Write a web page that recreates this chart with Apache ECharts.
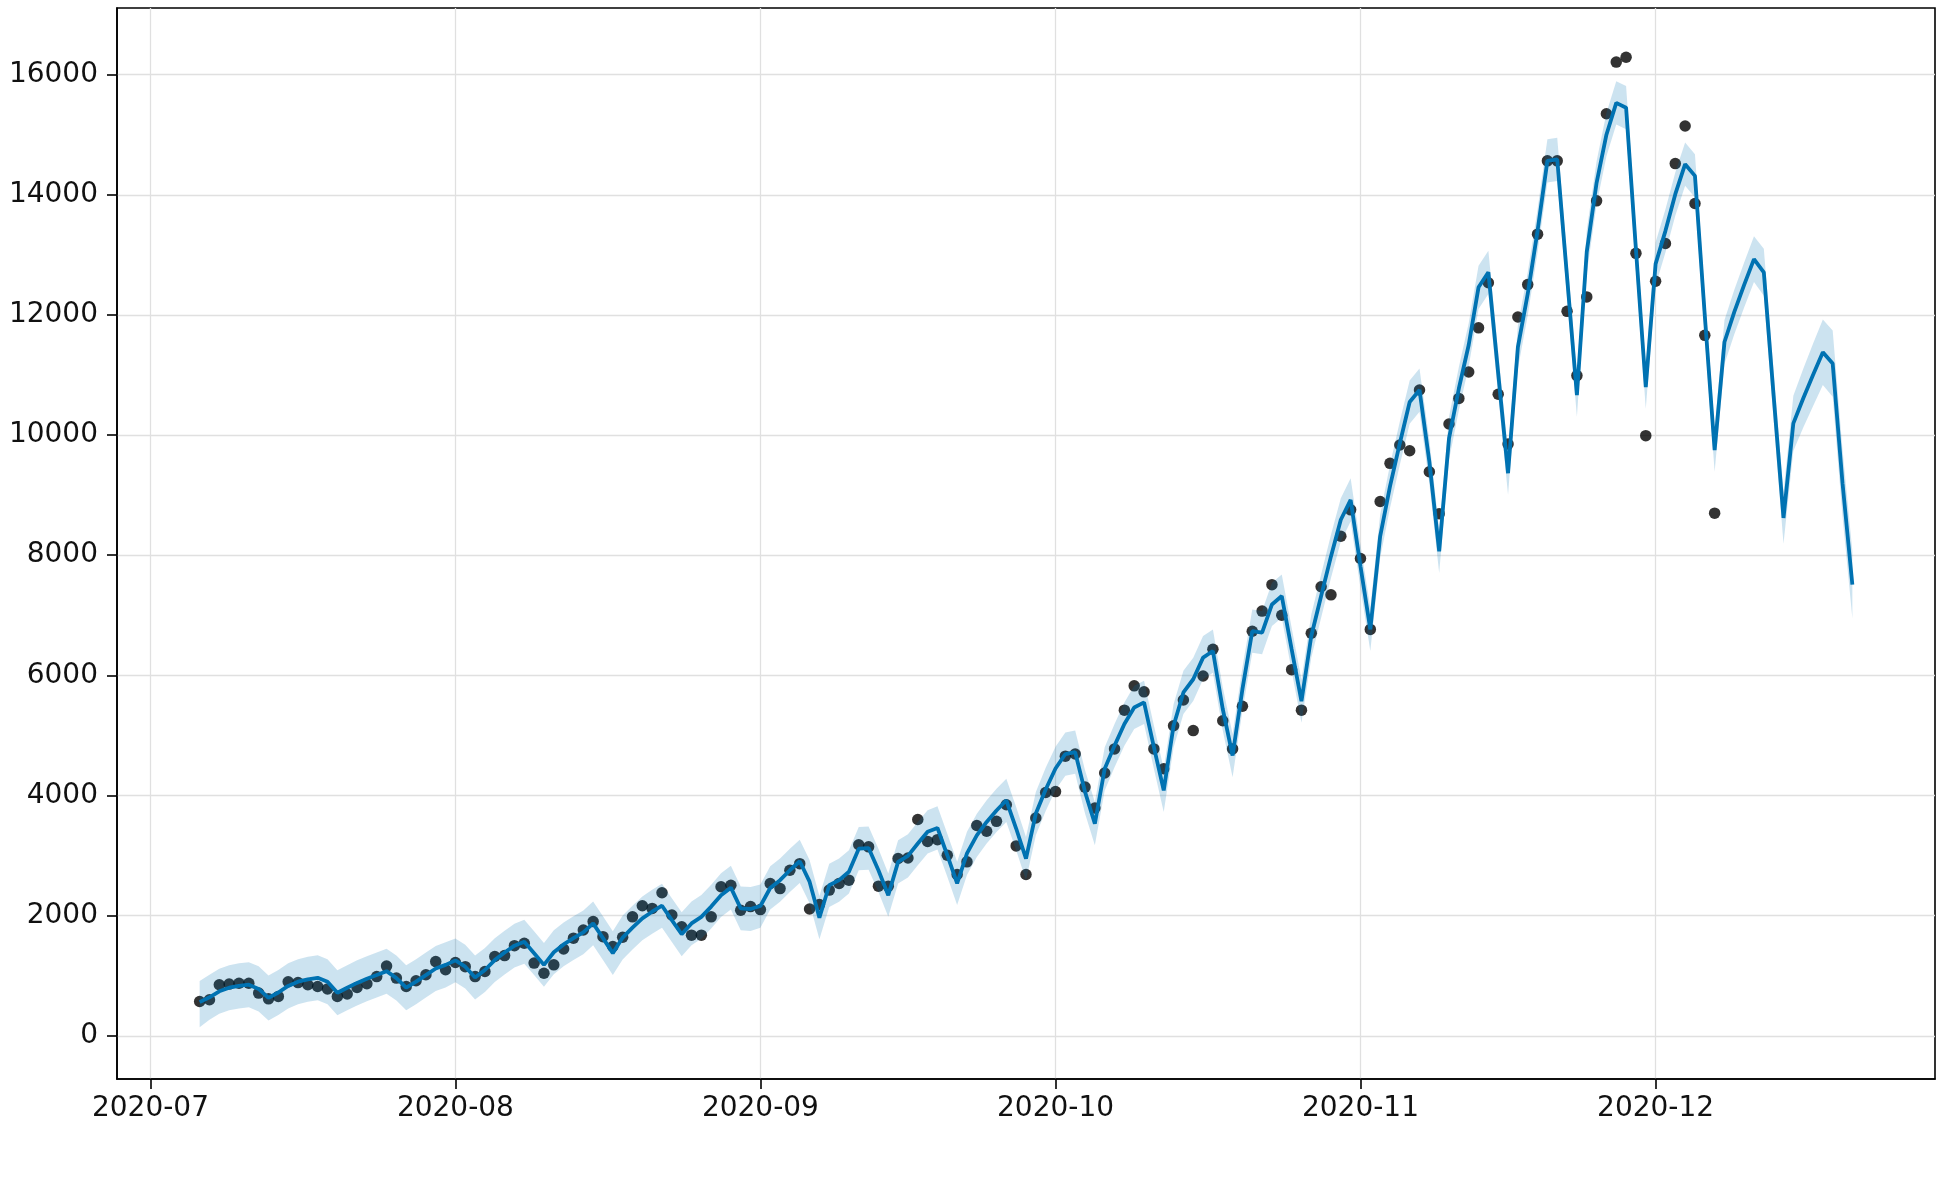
<!DOCTYPE html>
<html>
<head>
<meta charset="utf-8">
<script src="https://cdn.jsdelivr.net/npm/echarts@6/dist/echarts.min.js"></script>
<style>
html,body{margin:0;padding:0;background:#fff;}
#chart{width:1950px;height:1178px;}
</style>
</head>
<body>
<div id="chart"></div>
<script>
// Dates of the forecast frame (history runs to 2020-12-07)
const dates = [
'2020-07-06','2020-07-07','2020-07-08','2020-07-09','2020-07-10','2020-07-11','2020-07-12','2020-07-13','2020-07-14','2020-07-15','2020-07-16','2020-07-17','2020-07-18','2020-07-19','2020-07-20','2020-07-21','2020-07-22','2020-07-23','2020-07-24','2020-07-25','2020-07-26','2020-07-27','2020-07-28','2020-07-29','2020-07-30','2020-07-31',
'2020-08-01','2020-08-02','2020-08-03','2020-08-04','2020-08-05','2020-08-06','2020-08-07','2020-08-08','2020-08-09','2020-08-10','2020-08-11','2020-08-12','2020-08-13','2020-08-14','2020-08-15','2020-08-16','2020-08-17','2020-08-18','2020-08-19','2020-08-20','2020-08-21','2020-08-22','2020-08-23','2020-08-24','2020-08-25','2020-08-26','2020-08-27','2020-08-28','2020-08-29','2020-08-30','2020-08-31',
'2020-09-01','2020-09-02','2020-09-03','2020-09-04','2020-09-05','2020-09-06','2020-09-07','2020-09-08','2020-09-09','2020-09-10','2020-09-11','2020-09-12','2020-09-13','2020-09-14','2020-09-15','2020-09-16','2020-09-17','2020-09-18','2020-09-19','2020-09-20','2020-09-21','2020-09-22','2020-09-23','2020-09-24','2020-09-25','2020-09-26','2020-09-27','2020-09-28','2020-09-29','2020-09-30',
'2020-10-01','2020-10-02','2020-10-03','2020-10-04','2020-10-05','2020-10-06','2020-10-07','2020-10-08','2020-10-09','2020-10-10','2020-10-11','2020-10-12','2020-10-13','2020-10-14','2020-10-15','2020-10-16','2020-10-17','2020-10-18','2020-10-19','2020-10-20','2020-10-21','2020-10-22','2020-10-23','2020-10-24','2020-10-25','2020-10-26','2020-10-27','2020-10-28','2020-10-29','2020-10-30','2020-10-31',
'2020-11-01','2020-11-02','2020-11-03','2020-11-04','2020-11-05','2020-11-06','2020-11-07','2020-11-08','2020-11-09','2020-11-10','2020-11-11','2020-11-12','2020-11-13','2020-11-14','2020-11-15','2020-11-16','2020-11-17','2020-11-18','2020-11-19','2020-11-20','2020-11-21','2020-11-22','2020-11-23','2020-11-24','2020-11-25','2020-11-26','2020-11-27','2020-11-28','2020-11-29','2020-11-30',
'2020-12-01','2020-12-02','2020-12-03','2020-12-04','2020-12-05','2020-12-06','2020-12-07','2020-12-08','2020-12-09','2020-12-10','2020-12-11','2020-12-12','2020-12-13','2020-12-14','2020-12-15','2020-12-16','2020-12-17','2020-12-18','2020-12-19','2020-12-20','2020-12-21'
];

// Observed values (black dots), 2020-07-06 .. 2020-12-07
const actual = [
570,600,850,860,875,875,710,615,655,900,885,850,820,780,655,695,805,865,985,1160,960,820,915,1015,1235,1100,
1220,1150,985,1070,1320,1335,1500,1540,1210,1040,1180,1445,1625,1760,1900,1650,1485,1640,1980,2165,2120,2380,2010,1815,1675,1675,1980,2480,2505,2090,2150,
2100,2535,2450,2755,2865,2110,2185,2425,2535,2590,3180,3145,2490,2490,2950,2960,3600,3235,3265,3005,2685,2895,3500,3405,3570,3845,3160,2685,3625,4050,
4065,4655,4690,4140,3790,4375,4775,5420,5825,5725,4775,4445,5160,5590,5080,5990,6435,5245,4775,5485,6735,7070,7510,7000,6095,5420,6700,7475,7340,8315,8755,
7945,6765,8895,9530,9835,9740,10750,9390,8690,10185,10610,11050,11785,12535,10680,9850,11965,12505,13345,14565,14565,12060,10990,12300,13900,15350,16210,16290,13025,9990,
12560,13190,14520,15145,13855,11660,8700
];

// Forecast (yhat)
const yhat = [
560,640,740,800,830,850,780,630,720,830,900,940,965,900,715,800,880,950,1010,1075,960,800,900,1010,1120,1180,
1255,1150,970,1095,1260,1385,1500,1565,1375,1180,1390,1520,1625,1720,1870,1625,1375,1635,1800,1955,2065,2165,1925,1690,1870,1980,2150,2340,2465,2120,2110,
2160,2460,2590,2755,2905,2565,1965,2505,2590,2730,3115,3125,2755,2340,2895,2995,3200,3395,3460,3005,2535,3035,3335,3560,3750,3920,3450,2950,3700,4100,
4450,4690,4720,4060,3530,4445,4830,5190,5465,5550,4805,4085,5160,5715,5935,6295,6405,5440,4665,5770,6735,6710,7180,7320,6435,5570,6655,7320,7980,8590,8920,
7815,6765,8315,9145,9865,10550,10750,9560,8065,9945,10775,11500,12460,12710,11025,9365,11465,12350,13400,14565,14590,12630,10665,13050,14200,15000,15530,15450,13090,10800,
12850,13400,14010,14510,14315,11990,9750,11550,12050,12500,12930,12710,10650,8620,10195,10610,11000,11380,11190,9200,7510
];

// Uncertainty interval
const yhatLower = [
140,265,365,425,455,475,405,255,345,455,525,565,590,525,340,425,505,575,635,700,585,425,525,635,745,805,
890,785,605,730,895,1020,1135,1200,1010,815,1025,1155,1260,1355,1505,1260,1010,1270,1435,1590,1700,1800,1560,1325,1505,1615,1785,1975,2100,1755,1745,
1800,2100,2230,2395,2545,2205,1605,2145,2230,2370,2755,2765,2395,1980,2535,2635,2840,3035,3100,2645,2175,2675,2975,3200,3390,3560,3090,2590,3340,3740,
4090,4330,4360,3700,3170,4085,4470,4830,5105,5190,4445,3725,4800,5355,5575,5935,6045,5080,4305,5410,6375,6350,6820,6960,6075,5210,6295,6960,7620,8230,8560,
7455,6405,7955,8785,9505,10190,10390,9200,7705,9585,10415,11140,12100,12350,10665,9005,11105,11990,13040,14205,14230,12270,10305,12690,13840,14640,15170,15090,12730,10440,
12490,13040,13650,14150,13955,11630,9390,11185,11680,12125,12550,12320,10240,8190,9735,10120,10480,10835,10640,8645,6950
];
const yhatUpper = [
910,1015,1115,1175,1205,1225,1155,1005,1095,1205,1275,1315,1340,1275,1090,1175,1255,1325,1385,1450,1335,1175,1275,1385,1495,1555,
1620,1515,1335,1460,1625,1750,1865,1930,1740,1545,1755,1885,1990,2085,2235,1990,1740,2000,2165,2320,2430,2530,2290,2055,2235,2345,2515,2705,2830,2485,2475,
2520,2820,2950,3115,3265,2925,2325,2865,2950,3090,3475,3485,3115,2700,3255,3355,3560,3755,3820,3365,2895,3395,3695,3920,4110,4280,3810,3310,4060,4460,
4810,5050,5080,4420,3890,4805,5190,5550,5825,5910,5165,4445,5520,6075,6295,6655,6765,5800,5025,6130,7095,7070,7540,7680,6795,5930,7015,7680,8340,8950,9280,
8175,7125,8675,9505,10225,10910,11110,9920,8425,10305,11135,11860,12820,13070,11385,9725,11825,12710,13760,14925,14950,12990,11025,13410,14560,15360,15890,15810,13450,11160,
13210,13760,14370,14870,14675,12350,10110,11915,12420,12875,13310,13100,11060,9050,10655,11100,11520,11925,11740,9755,8070
];

// Axis ticks
const xTickDates = ['2020-07-01','2020-08-01','2020-09-01','2020-10-01','2020-11-01','2020-12-01'];
const xTickLabels = ['2020-07','2020-08','2020-09','2020-10','2020-11','2020-12'];
const yTicks = [0,2000,4000,6000,8000,10000,12000,14000,16000];

function ts(s){ const p = s.split('-').map(Number); return Date.UTC(p[0], p[1]-1, p[2]); }
const DAY = 86400000;
const t = dates.map(ts);
const xTickTs = xTickDates.map(ts);

const scatterData = actual.map((v,i)=>[t[i], v]);
const lineData = yhat.map((v,i)=>[t[i], v]);
const bandData = yhatLower.map((v,i)=>[t[i], v, yhatUpper[i]]);

const FONT = 'DejaVu Sans';
const chart = echarts.init(document.getElementById('chart'), null, {renderer:'canvas'});
chart.setOption({
  animation: false,
  backgroundColor: '#fff',
  grid: {left:117, right:15, top:8, bottom:99, show:true, borderColor:'#000', borderWidth:1.6, backgroundColor:'transparent'},
  xAxis: {
    type: 'value',
    min: t[0] - 8.4*DAY,
    max: t[t.length-1] + 8.4*DAY,
    axisLine: {show:true, onZero:false, lineStyle:{color:'#000', width:1.6}},
    axisTick: {show:true, length:10, customValues: xTickTs, lineStyle:{color:'#000', width:1.6}},
    axisLabel: {
      show:true, customValues: xTickTs, margin:16, color:'#111', fontFamily:FONT, fontSize:28,
      formatter: function(v){ const k = xTickTs.indexOf(v); return k>=0 ? xTickLabels[k] : ''; }
    },
    splitLine: {show:true, lineStyle:{color:'#e0e0e0', width:1.3}}
  },
  yAxis: {
    type: 'value',
    min: -720,
    max: 17110,
    axisLine: {show:true, onZero:false, lineStyle:{color:'#000', width:1.6}},
    axisTick: {show:true, length:10, customValues: yTicks, lineStyle:{color:'#000', width:1.6}},
    axisLabel: {
      show:true, customValues: yTicks, margin:19, color:'#111', fontFamily:FONT, fontSize:28,
      formatter: function(v){ return String(v); }
    },
    splitLine: {show:true, lineStyle:{color:'#e0e0e0', width:1.3}}
  },
  series: [
    {
      name:'y', type:'scatter', data: scatterData, symbol:'circle', symbolSize:11.5,
      itemStyle:{color:'#000'}, z:2, silent:true
    },
    {
      name:'yhat', type:'line', data: lineData, showSymbol:false, symbol:'none',
      lineStyle:{color:'#0072B2', width:3.8}, z:3, silent:true
    },
    {
      name:'interval', type:'custom', data: bandData, z:4, silent:true,
      encode:{x:0, y:[1,2]},
      renderItem: function(params, api){
        if (params.dataIndex !== 0) return null;
        const top = [], bot = [];
        for (let i=0;i<bandData.length;i++){
          top.push(api.coord([bandData[i][0], bandData[i][2]]));
          bot.push(api.coord([bandData[i][0], bandData[i][1]]));
        }
        return {type:'polygon', shape:{points: top.concat(bot.reverse())}, style:{fill:'rgba(0,114,178,0.2)'}};
      }
    }
  ]
});
</script>
</body>
</html>
